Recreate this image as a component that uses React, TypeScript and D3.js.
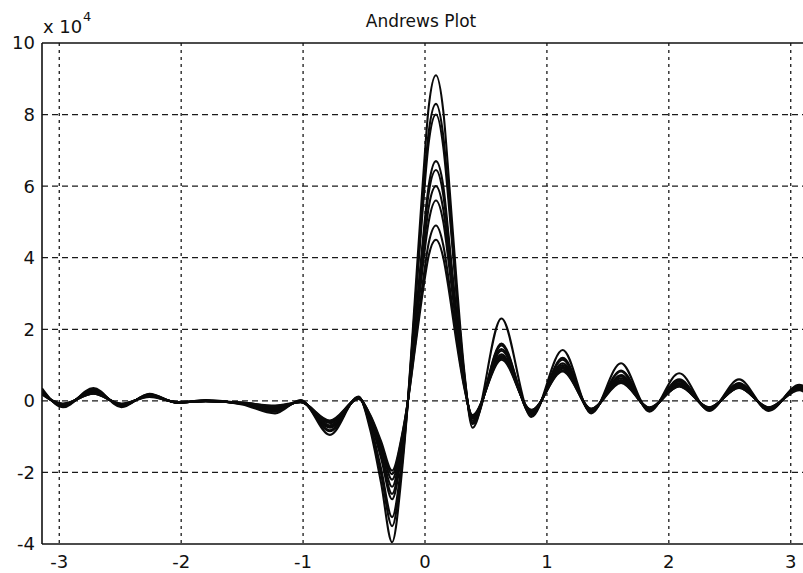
import React from 'react';
import * as d3 from 'd3';

// Andrews curves, values in units of 1e4
const tKnots = [
  -3.1416, -2.97, -2.72, -2.49, -2.26, -2.03, -1.8, -1.5, -1.23, -1.02, -0.78,
  -0.545, -0.45, -0.36, -0.27, -0.19, -0.14, -0.08, -0.02, 0.03, 0.09, 0.15, 0.2, 0.26, 0.32, 0.39,
  0.627, 0.872, 1.13, 1.363, 1.608, 1.84, 2.085, 2.33, 2.576, 2.82, 3.07, 3.1416,
];

const curveA = [0.35, -0.18, 0.36, -0.18, 0.2, -0.06, 0.02, -0.1, -0.35, 0.02, -0.95,
  0.12, -0.8, -2.3, -3.95, -2.0, 0.0, 3.0, 6.0, 8.2, 9.1, 8.1, 6.0, 3.3, 0.9, -0.75,
  2.3, -0.45, 1.42, -0.35, 1.05, -0.3, 0.77, -0.28, 0.6, -0.28, 0.45, 0.35];
const curveB = [0.3, -0.15, 0.32, -0.15, 0.18, -0.05, 0.0, -0.08, -0.3, 0.0, -0.85,
  0.1, -0.7, -2.05, -3.5, -1.8, 0.0, 2.75, 5.5, 7.5, 8.3, 7.4, 5.5, 3.0, 0.8, -0.65,
  1.6, -0.4, 1.2, -0.3, 0.85, -0.25, 0.6, -0.25, 0.5, -0.25, 0.42, 0.3];
const curveC = [0.3, -0.15, 0.3, -0.14, 0.17, -0.05, 0.0, -0.08, -0.28, 0.0, -0.82,
  0.1, -0.65, -1.9, -3.25, -1.65, 0.0, 2.65, 5.3, 7.2, 8.0, 7.1, 5.3, 2.9, 0.75, -0.6,
  1.55, -0.38, 1.15, -0.3, 0.82, -0.25, 0.58, -0.24, 0.48, -0.24, 0.4, 0.3];
const curveD = [0.25, -0.12, 0.28, -0.13, 0.16, -0.05, 0.0, -0.07, -0.25, -0.02, -0.75,
  0.08, -0.55, -1.6, -2.75, -1.4, 0.0, 2.2, 4.4, 6.0, 6.7, 6.0, 4.4, 2.4, 0.65, -0.55,
  1.45, -0.35, 1.05, -0.28, 0.72, -0.24, 0.54, -0.22, 0.45, -0.22, 0.38, 0.25];
const curveE = [0.25, -0.12, 0.26, -0.12, 0.15, -0.04, 0.0, -0.07, -0.22, -0.02, -0.72,
  0.08, -0.52, -1.5, -2.6, -1.3, 0.0, 2.1, 4.25, 5.8, 6.45, 5.75, 4.25, 2.3, 0.6, -0.5,
  1.4, -0.33, 1.0, -0.27, 0.68, -0.23, 0.5, -0.22, 0.42, -0.22, 0.36, 0.25];
const curveF = [0.22, -0.1, 0.24, -0.1, 0.14, -0.04, -0.01, -0.06, -0.2, -0.03, -0.68,
  0.07, -0.48, -1.4, -2.4, -1.2, 0.0, 2.0, 3.95, 5.4, 6.0, 5.35, 3.95, 2.15, 0.55, -0.48,
  1.3, -0.3, 0.95, -0.25, 0.63, -0.22, 0.46, -0.2, 0.4, -0.2, 0.35, 0.22];
const curveG = [0.2, -0.1, 0.22, -0.1, 0.13, -0.04, -0.01, -0.06, -0.18, -0.03, -0.62,
  0.07, -0.44, -1.28, -2.2, -1.1, 0.0, 1.85, 3.7, 5.0, 5.6, 5.0, 3.7, 2.0, 0.5, -0.45,
  1.25, -0.28, 0.9, -0.24, 0.58, -0.2, 0.43, -0.2, 0.38, -0.2, 0.33, 0.2];
const curveH = [0.2, -0.08, 0.2, -0.08, 0.12, -0.03, -0.01, -0.05, -0.15, -0.04, -0.58,
  0.06, -0.41, -1.2, -2.05, -1.02, 0.0, 1.6, 3.25, 4.4, 4.9, 4.35, 3.25, 1.75, 0.45, -0.42,
  1.2, -0.26, 0.85, -0.22, 0.53, -0.2, 0.41, -0.18, 0.37, -0.18, 0.32, 0.2];
const curveI = [0.18, -0.08, 0.2, -0.08, 0.11, -0.03, -0.01, -0.05, -0.13, -0.04, -0.55,
  0.05, -0.39, -1.13, -1.95, -0.98, 0.0, 1.5, 3.0, 4.05, 4.5, 4.0, 3.0, 1.6, 0.4, -0.4,
  1.15, -0.25, 0.82, -0.22, 0.5, -0.18, 0.4, -0.18, 0.36, -0.18, 0.3, 0.18];

const allCurves = [curveA, curveB, curveC, curveD, curveE, curveF, curveG, curveH, curveI];

const xTicks = [-3, -2, -1, 0, 1, 2, 3];
const yTicks = [-4, -2, 0, 2, 4, 6, 8, 10];

const width = 803;
const height = 573;
const plotLeft = 42;
const plotTop = 43;
const plotBottom = 544;

const App = () => {
  const x = d3.scaleLinear().domain([-Math.PI, Math.PI]).range([plotLeft, 808]);
  const y = d3.scaleLinear().domain([-4, 10]).range([plotBottom, plotTop]);

  const line = d3.line<number>()
    .x((d, i) => x(tKnots[i]))
    .y(d => y(d))
    .curve(d3.curveMonotoneX);

  const font = '"DejaVu Sans", Arial, sans-serif';

  return (
    <svg width={width} height={height}
      style={{ position: 'absolute', left: 0, top: 0, background: '#fff' }}>
      <rect x={0} y={0} width={width} height={height} fill="#fff" />
      <defs>
        <clipPath id="plotClip">
          <rect x={plotLeft} y={plotTop - 2} width={width} height={plotBottom - plotTop + 4} />
        </clipPath>
      </defs>

      {/* grid */}
      {xTicks.map(t => (
        <line key={'gx' + t} x1={x(t)} x2={x(t)} y1={plotTop} y2={plotBottom}
          stroke="#1a1a1a" strokeWidth={1.3} strokeDasharray="3,4" />
      ))}
      {yTicks.slice(1, -1).map(t => (
        <line key={'gy' + t} x1={plotLeft} x2={width} y1={y(t)} y2={y(t)}
          stroke="#1a1a1a" strokeWidth={1.3} strokeDasharray="6,4" />
      ))}

      {/* curves */}
      <g clipPath="url(#plotClip)">
        {allCurves.map((c, i) => (
          <path key={i} d={line(c) || ''} fill="none" stroke="#0a0a0a"
            strokeWidth={2.1} strokeLinejoin="round" />
        ))}
      </g>

      {/* axes box */}
      <line x1={plotLeft} x2={plotLeft} y1={plotTop} y2={plotBottom} stroke="#111" strokeWidth={1.6} />
      <line x1={plotLeft} x2={width} y1={plotTop} y2={plotTop} stroke="#111" strokeWidth={1.6} />
      <line x1={plotLeft} x2={width} y1={plotBottom} y2={plotBottom} stroke="#111" strokeWidth={1.6} />

      {/* tick labels */}
      {yTicks.map(t => (
        <text key={'ly' + t} x={35} y={y(t)} dy="0.36em" textAnchor="end"
          fontFamily={font} fontSize={18} fill="#111">{t}</text>
      ))}
      {xTicks.map(t => (
        <text key={'lx' + t} x={x(t)} y={568} textAnchor="middle"
          fontFamily={font} fontSize={18} fill="#111">{t}</text>
      ))}

      {/* exponent and title */}
      <text x={43} y={33} fontFamily={font} fontSize={18} fill="#111">x 10</text>
      <text x={83} y={21} fontFamily={font} fontSize={13} fill="#111">4</text>
      <text x={421} y={27} textAnchor="middle" fontFamily={font} fontSize={17} fill="#111">Andrews Plot</text>
    </svg>
  );
};

export default App;
